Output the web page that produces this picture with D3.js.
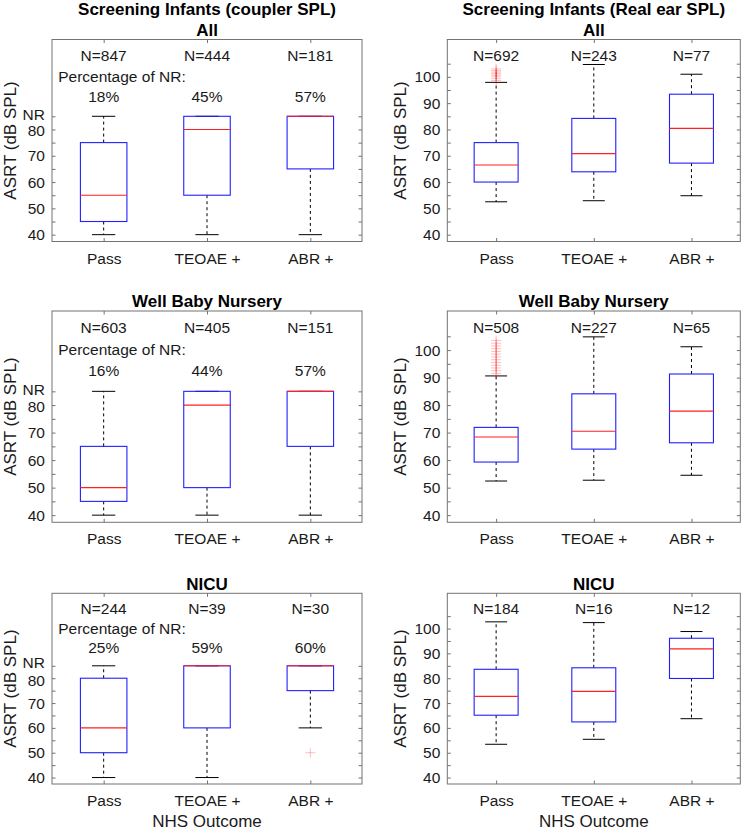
<!DOCTYPE html>
<html>
<head>
<meta charset="utf-8">
<script src="https://cdnjs.cloudflare.com/ajax/libs/d3/7.8.5/d3.min.js"></script>
<style>
  html, body { margin: 0; padding: 0; background: #ffffff; }
  svg { display: block; font-family: "Liberation Sans", Arial, sans-serif; }
</style>
</head>
<body>
<svg id="chart" width="742" height="831"></svg>
<script>
// ---------------- data ----------------
const categories = ["Pass", "TEOAE +", "ABR +"];
const columnTitles = ["Screening Infants (coupler SPL)", "Screening Infants (Real ear SPL)"];
const rowTitles = ["All", "Well Baby Nursery", "NICU"];
const yAxisLabel = "ASRT (dB SPL)";
const xAxisLabel = "NHS Outcome";
const nrLabel = "Percentage of NR:";

// box stats: [lower whisker, q1, median, q3, upper whisker]; NR plotted at 85
const couplerAll  = [[40, 45, 55, 75, 85], [40, 55, 80, 85, 85], [40, 65, 85, 85, 85]];
const couplerWBN  = [[40, 45, 50, 65, 85], [40, 50, 80, 85, 85], [40, 65, 85, 85, 85]];
const couplerNICU = [[40, 50, 60, 80, 85], [40, 60, 85, 85, 85], [60, 75, 85, 85, 85]];

const realEarAll  = [[52.5, 60.0, 66.5, 75.0, 97.9], [52.9, 63.9, 70.8, 84.2, 104.7], [54.8, 67.2, 80.4, 93.4, 101.0]];
const realEarWBN  = [[52.4, 59.3, 68.4, 71.9, 90.6], [52.7, 64.0, 70.5, 84.1, 104.8], [54.5, 66.3, 77.8, 91.3, 101.2]];
const realEarNICU = [[53.4, 65.1, 72.7, 83.6, 102.7], [55.4, 62.4, 74.7, 84.2, 102.4], [63.7, 79.9, 91.8, 96.1, 98.8]];

const couplerOutliers = [[[], [], []], [[], [], []], [[], [], [50]]];
const realEarOutliers = [
  [[98.6, 99.3, 100.0, 100.6, 101.2, 101.8, 102.4, 103.0], [], []],
  [[91.5, 92.5, 93.5, 94.5, 95.5, 96.5, 97.5, 98.5, 99.5, 100.5, 101.5, 102.5, 103.5], [], []],
  [[], [], []]
];

const couplerN  = [[847, 444, 181], [603, 405, 151], [244, 39, 30]];
const realEarN  = [[692, 243, 77], [508, 227, 65], [184, 16, 12]];
const nrPercent = [[18, 45, 57], [16, 44, 57], [25, 59, 60]];

const couplerTicks = [40, 45, 50, 55, 60, 65, 70, 75, 80, 85];
const couplerTickLabels = ["40", "", "50", "", "60", "", "70", "", "80", "NR"];
const realEarTicks = [40, 45, 50, 55, 60, 65, 70, 75, 80, 85, 90, 95, 100, 105];
const realEarTickLabels = ["40", "", "50", "", "60", "", "70", "", "80", "", "90", "", "100", ""];

// ---------------- layout ----------------
const yDomain = [37.4, 114.2];
const colX = [[52, 362], [447.3, 740.3]];
const rowY = [[39.5, 241.5], [311, 522.3], [593.3, 784]];
const titleBaselines = [306.5, 590];

const svg = d3.select("#chart");
svg.append("rect").attr("width", 742).attr("height", 831).attr("fill", "#fff");

const tickFont = 15.5, labelFont = 17;
const frameColor = "#737373", textColor = "#1a1a1a";

const couplerStats = [couplerAll, couplerWBN, couplerNICU];
const realEarStats = [realEarAll, realEarWBN, realEarNICU];

function drawPanel(row, col) {
  const [x0, x1] = colX[col];
  const [y0, y1] = rowY[row];
  const isCoupler = col === 0;
  const stats = isCoupler ? couplerStats[row] : realEarStats[row];
  const outl = isCoupler ? couplerOutliers[row] : realEarOutliers[row];
  const counts = isCoupler ? couplerN[row] : realEarN[row];
  const ticks = isCoupler ? couplerTicks : realEarTicks;
  const tickLabels = isCoupler ? couplerTickLabels : realEarTickLabels;

  const x = d3.scalePoint().domain(categories).range([x0, x1]).padding(0.5);
  const xl = d3.scaleLinear().domain([0.5, 3.5]).range([x0, x1]);
  const y = d3.scaleLinear().domain(yDomain).range([y1, y0]);
  const step = x.step();
  const boxW = step * 0.45;
  const capW = boxW / 2;

  const g = svg.append("g");

  // axes
  const left = g.append("g").attr("transform", `translate(${x0},0)`)
    .call(d3.axisLeft(y).tickValues(ticks).tickFormat((d, i) => tickLabels[i])
      .tickSizeInner(-3.5).tickSizeOuter(0).tickPadding(7));
  const right = g.append("g").attr("transform", `translate(${x1},0)`)
    .call(d3.axisRight(y).tickValues(ticks).tickFormat("")
      .tickSizeInner(-3.5).tickSizeOuter(0));
  const bottom = g.append("g").attr("transform", `translate(0,${y1})`)
    .call(d3.axisBottom(x).tickSizeInner(-3.5).tickSizeOuter(0).tickPadding(11));
  const top = g.append("g").attr("transform", `translate(0,${y0})`)
    .call(d3.axisTop(x).tickFormat("").tickSizeInner(-3.5).tickSizeOuter(0));
  [left, right, bottom, top].forEach(a => {
    a.select(".domain").remove();
    a.selectAll(".tick line").attr("stroke", frameColor);
    a.selectAll("text").attr("font-size", tickFont).attr("fill", textColor)
      .attr("font-family", "Liberation Sans, Arial, sans-serif");
  });
  // keep "NR" and "80" from colliding: nudge NR label up slightly, 80 down slightly
  if (isCoupler) {
    const nrDy = row === 2 ? "0.12em" : "0.22em";
    const d80 = row === 2 ? "0.46em" : "0.40em";
    left.selectAll(".tick text").attr("dy", (d) => d === 85 ? nrDy : (d === 80 ? d80 : "0.32em"));
  }
  g.append("rect").attr("x", x0).attr("y", y0).attr("width", x1 - x0).attr("height", y1 - y0)
    .attr("fill", "none").attr("stroke", frameColor).attr("stroke-width", 1);

  // boxes
  categories.forEach((c, i) => {
    const [lo, q1, med, q3, hi] = stats[i];
    const cx = x(c);
    const bx = g.append("g");
    // whiskers
    if (hi > q3) bx.append("line").attr("x1", cx).attr("x2", cx).attr("y1", y(q3)).attr("y2", y(hi))
      .attr("stroke", "#000").attr("stroke-width", 1).attr("stroke-dasharray", "3,3");
    if (lo < q1) bx.append("line").attr("x1", cx).attr("x2", cx).attr("y1", y(q1)).attr("y2", y(lo))
      .attr("stroke", "#000").attr("stroke-width", 1).attr("stroke-dasharray", "3,3");
    // caps
    [lo, hi].forEach(v => bx.append("line").attr("x1", cx - capW / 2).attr("x2", cx + capW / 2)
      .attr("y1", y(v)).attr("y2", y(v)).attr("stroke", "#000").attr("stroke-width", 1));
    // box
    bx.append("rect").attr("x", cx - boxW / 2).attr("width", boxW)
      .attr("y", y(q3)).attr("height", y(q1) - y(q3))
      .attr("fill", "none").attr("stroke", "#2020ff").attr("stroke-width", 1.1);
    // median
    bx.append("line").attr("x1", cx - boxW / 2).attr("x2", cx + boxW / 2)
      .attr("y1", y(med)).attr("y2", y(med)).attr("stroke", "#ff2020").attr("stroke-width", 1.1);
    // outliers
    outl[i].forEach(v => {
      const py = y(v);
      bx.append("path").attr("d", `M${cx - 5},${py}H${cx + 5}M${cx},${py - 5}V${py + 5}`)
        .attr("stroke", "#ff0000").attr("stroke-opacity", 0.25).attr("stroke-width", 1).attr("fill", "none");
    });
    // N text
    g.append("text").attr("x", cx).attr("y", y(108)).attr("dy", "0.35em")
      .attr("text-anchor", "middle").attr("font-size", tickFont).attr("fill", textColor)
      .text("N=" + counts[i]);
    if (isCoupler) {
      g.append("text").attr("x", cx).attr("y", y(92.5)).attr("dy", "0.35em")
        .attr("text-anchor", "middle").attr("font-size", tickFont).attr("fill", textColor)
        .text(nrPercent[row][i] + "%");
    }
  });
  if (isCoupler) {
    g.append("text").attr("x", xl(0.56)).attr("y", y(100)).attr("dy", "0.35em")
      .attr("text-anchor", "start").attr("font-size", tickFont).attr("fill", textColor)
      .text(nrLabel);
  }

  // y label
  const cy = (y0 + y1) / 2;
  const lx = col === 0 ? 16 : 406;
  g.append("text").attr("transform", `translate(${lx},${cy}) rotate(-90)`)
    .attr("text-anchor", "middle").attr("font-size", labelFont).attr("fill", textColor)
    .text(yAxisLabel);

  // titles
  const tcx = (x0 + x1) / 2;
  if (row === 0) {
    g.append("text").attr("x", tcx).attr("y", 15).attr("text-anchor", "middle")
      .attr("font-size", labelFont).attr("font-weight", "bold").attr("fill", "#000").text(columnTitles[col]);
    g.append("text").attr("x", tcx).attr("y", 36).attr("text-anchor", "middle")
      .attr("font-size", labelFont).attr("font-weight", "bold").attr("fill", "#000").text(rowTitles[row]);
  } else {
    g.append("text").attr("x", tcx).attr("y", titleBaselines[row - 1]).attr("text-anchor", "middle")
      .attr("font-size", labelFont).attr("font-weight", "bold").attr("fill", "#000").text(rowTitles[row]);
  }
  if (row === 2) {
    g.append("text").attr("x", tcx).attr("y", 826.5).attr("text-anchor", "middle")
      .attr("font-size", labelFont).attr("fill", textColor).text(xAxisLabel);
  }
}

for (let r = 0; r < 3; r++) for (let c = 0; c < 2; c++) drawPanel(r, c);
</script>
</body>
</html>
